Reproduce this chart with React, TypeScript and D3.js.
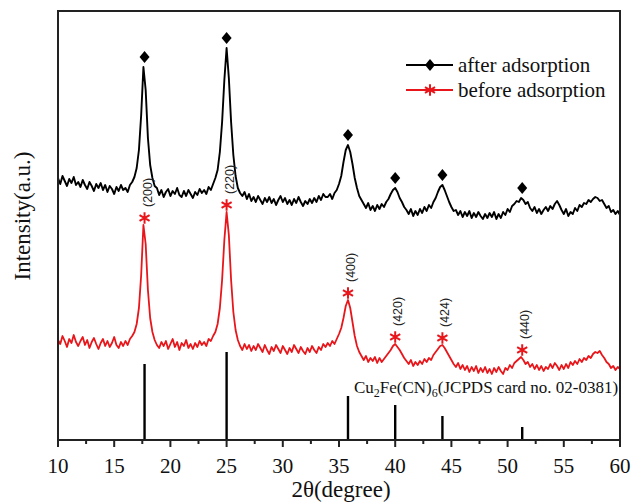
import React from "react";
import * as d3 from "d3";

// 2θ grid: 10.0 → 60.0 in steps of 0.2 (251 points)
const thetaStart = 10;
const thetaStep = 0.2;

// after adsorption (black), intensity a.u.
const afterAdsorption: number[] = [
  262, 256, 264, 259, 254, 261, 257, 263, 255, 258,
  253, 260, 255, 251, 258, 254, 249, 256, 252, 257,
  250, 255, 248, 254, 251, 246, 253, 249, 255, 250,
  252, 248, 255, 258, 263, 272, 290, 325, 373, 350,
  302, 275, 262, 254, 252, 245, 250, 243, 248, 251,
  244, 249, 246, 252, 245, 243, 249, 244, 250, 246,
  242, 248, 245, 251, 247, 250, 246, 253, 250, 256,
  262, 270, 288, 318, 360, 392, 362, 318, 285, 264,
  252, 247, 244, 248, 241, 246, 239, 243, 238, 244,
  240, 236, 242, 238, 243, 237, 241, 235, 240, 244,
  238, 242, 236, 240, 235, 241, 237, 243, 238, 234,
  239, 236, 241, 237, 242, 238, 244, 240, 246, 243,
  243, 246, 241, 247, 250, 256, 264, 278, 290, 295,
  288, 276, 262, 252, 244, 240, 236, 232, 237, 230,
  234, 229, 235, 231, 236, 233, 238, 241, 246, 250,
  252, 248, 242, 238, 233, 230, 226, 231, 224, 229,
  225, 231, 227, 233, 229, 235, 232, 238, 242, 248,
  253, 255, 250, 244, 238, 233, 229, 230, 225, 229,
  223, 228, 224, 229, 222, 227, 223, 228, 224, 221,
  226, 222, 227, 223, 228, 221, 226, 222, 228, 225,
  231, 228, 234, 236, 239, 238, 242, 240, 236, 238,
  232, 229, 233, 227, 231, 226, 230, 233, 229, 234,
  231, 236, 239, 235, 230, 226, 231, 224, 228, 226,
  232, 229, 235, 233, 237, 236, 240, 238, 241, 243,
  242, 239, 240, 236, 232, 234, 228, 230, 226, 229,
  225,
];

// before adsorption (red), intensity a.u.
const beforeAdsorption: number[] = [
  100, 96, 104, 99, 93, 101, 97, 105, 98, 94,
  99, 103, 95, 100, 92, 98, 102, 96, 91, 97,
  101, 94, 99, 93, 97, 103, 95, 92, 98, 94,
  99, 95, 101, 104, 108, 116, 132, 165, 215, 196,
  150, 122, 108, 100, 95, 92, 98, 94, 99, 91,
  96, 101, 93, 98, 90, 97, 94, 100, 92, 96,
  91, 97, 93, 99, 95, 98, 94, 101, 99, 104,
  108, 116, 132, 160, 200, 228, 205, 160, 128, 110,
  100, 94, 90, 96, 91, 95, 89, 94, 90, 96,
  92, 88, 95, 90, 86, 93, 89, 95, 91, 87,
  94, 90, 86, 92, 88, 95, 91, 87, 93, 89,
  86, 92, 88, 94, 90, 87, 93, 90, 96, 93,
  97, 94, 99, 96, 101, 106, 112, 122, 134, 140,
  132, 118, 104, 94, 88, 84, 80, 84, 78, 82,
  79, 83, 77, 82, 78, 81, 84, 87, 90, 94,
  96, 93, 90, 86, 82, 79, 76, 80, 74, 78,
  75, 79, 76, 81, 78, 82, 80, 85, 88, 91,
  94, 95, 92, 88, 84, 80, 76, 73, 77, 71,
  75, 70, 74, 68, 73, 69, 74, 67, 72, 68,
  73, 67, 71, 66, 72, 68, 73, 69, 66, 72,
  70, 75, 72, 77, 79, 81, 83, 80, 76, 78,
  73, 76, 71, 75, 70, 74, 69, 73, 71, 76,
  72, 77, 74, 70, 75, 71, 76, 72, 78, 75,
  79, 76, 81, 78, 82, 80, 84, 82, 86, 88,
  87, 89, 85, 82, 78, 76, 72, 74, 70, 73,
  71,
];

// Peak positions and Miller indices
const peakPositions = [17.7, 25.0, 35.8, 40.0, 44.2, 51.3];
const hklLabels = ["(200)", "(220)", "(400)", "(420)", "(424)", "(440)"];

// JCPDS 02-0381 reference stick intensities (a.u.)
const jcpdsPositions = [17.7, 25.0, 35.8, 40.0, 44.2, 51.3];
const jcpdsIntensities = [76, 88, 44, 35, 24, 13];

const xTicksMajor = [10, 15, 20, 25, 30, 35, 40, 45, 50, 55, 60];
const xTicksMinor = [12.5, 17.5, 22.5, 27.5, 32.5, 37.5, 42.5, 47.5, 52.5, 57.5];

const legendItems = ["after adsorption", "before adsorption"];

const W = 642;
const H = 504;
const serif = "'Liberation Serif', 'Times New Roman', serif";
const sans = "'Liberation Sans', Arial, sans-serif";

export default function App() {
  const x = d3.scaleLinear().domain([10, 60]).range([58, 620]);
  const y = d3.scaleLinear().domain([0, 430]).range([440, 10]);

  const theta = (i: number) => thetaStart + i * thetaStep;
  const line = d3
    .line<number>()
    .x((_, i) => x(theta(i)))
    .y((v) => y(v));

  const peakMax = (series: number[], pos: number) => {
    let m = -Infinity;
    series.forEach((v, i) => {
      if (Math.abs(theta(i) - pos) <= 0.31 && v > m) m = v;
    });
    return m;
  };

  const diamond = "M0,-6L5,0L0,6L-5,0Z";
  const star = d3.symbol(d3.symbolAsterisk, 95)() as string;

  const left = x(10);
  const right = x(60);
  const top = 11;
  const bottom = y(0);

  return (
    <svg
      width={W}
      height={H}
      style={{ position: "absolute", left: 0, top: 0, background: "#fff" }}
    >
      <rect x={0} y={0} width={W} height={H} fill="#fff" />

      {/* JCPDS sticks */}
      {jcpdsPositions.map((p, i) => (
        <line
          key={"j" + i}
          x1={x(p)}
          x2={x(p)}
          y1={bottom}
          y2={y(jcpdsIntensities[i])}
          stroke="#000"
          strokeWidth={2.4}
        />
      ))}
      <text x={354} y={393} fontFamily={serif} fontSize={17} fill="#111">
        Cu
        <tspan fontSize={12} dy={4}>2</tspan>
        <tspan dy={-4}>Fe(CN)</tspan>
        <tspan fontSize={12} dy={4}>6</tspan>
        <tspan dy={-4}>(JCPDS card no. 02-0381)</tspan>
      </text>

      {/* curves */}
      <path d={line(afterAdsorption) ?? ""} fill="none" stroke="#000" strokeWidth={1.9} strokeLinejoin="round" />
      <path d={line(beforeAdsorption) ?? ""} fill="none" stroke="#e8161b" strokeWidth={1.8} strokeLinejoin="round" />

      {/* markers */}
      {peakPositions.map((p, i) => {
        const bm = y(peakMax(afterAdsorption, p)) - 10;
        const rm = y(peakMax(beforeAdsorption, p)) - 7;
        return (
          <g key={"m" + i}>
            <path d={diamond} transform={`translate(${x(p)},${bm})`} fill="#000" />
            <path d={star} transform={`translate(${x(p)},${rm})`} fill="none" stroke="#e8161b" strokeWidth={2} />
            <text
              transform={`translate(${x(p) + 3},${rm - 11}) rotate(-90)`}
              fontFamily={sans}
              fontSize={12.5}
              fill="#222"
              dominantBaseline="central"
            >
              {hklLabels[i]}
            </text>
          </g>
        );
      })}

      {/* frame */}
      <rect x={left} y={top} width={right - left} height={bottom - top} fill="none" stroke="#222" strokeWidth={2} />

      {/* x ticks */}
      {xTicksMajor.map((t) => (
        <g key={"t" + t}>
          <line x1={x(t)} x2={x(t)} y1={bottom} y2={bottom + 7} stroke="#222" strokeWidth={2} />
          <text x={x(t)} y={473} textAnchor="middle" fontFamily={serif} fontSize={21} fill="#111">
            {t}
          </text>
        </g>
      ))}
      {xTicksMinor.map((t) => (
        <line key={"n" + t} x1={x(t)} x2={x(t)} y1={bottom} y2={bottom + 4} stroke="#222" strokeWidth={2} />
      ))}

      <text x={341} y={497} textAnchor="middle" fontFamily={serif} fontSize={23} fill="#111">
        2θ(degree)
      </text>
      <text
        transform="translate(22,216) rotate(-90)"
        textAnchor="middle"
        dominantBaseline="central"
        fontFamily={serif}
        fontSize={23}
        fill="#111"
      >
        Intensity(a.u.)
      </text>

      {/* legend */}
      {legendItems.map((label, i) => {
        const ly = 65 + i * 25;
        const color = i === 0 ? "#000" : "#e8161b";
        return (
          <g key={"l" + i}>
            <line x1={406} x2={453} y1={ly} y2={ly} stroke={color} strokeWidth={1.8} />
            {i === 0 ? (
              <path d={diamond} transform={`translate(430,${ly})`} fill="#000" />
            ) : (
              <path d={star} transform={`translate(430,${ly})`} fill="none" stroke={color} strokeWidth={2} />
            )}
            <text x={458} y={ly + 7} fontFamily={serif} fontSize={21} fill="#111">
              {label}
            </text>
          </g>
        );
      })}
    </svg>
  );
}
